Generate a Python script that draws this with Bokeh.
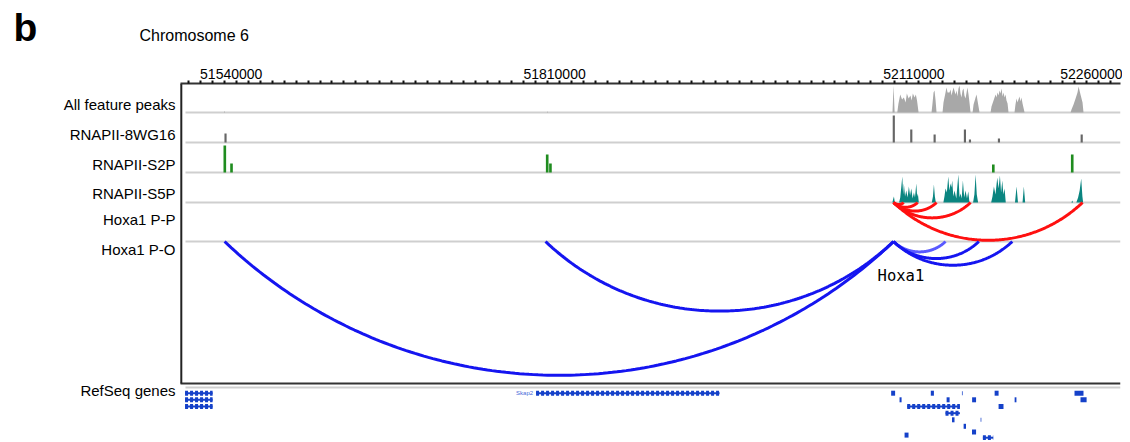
import numpy as np
from bokeh.plotting import figure
from bokeh.layouts import column
from bokeh.models import Range1d, FixedTicker, CustomJSTickFormatter
from bokeh.core.properties import value
from bokeh.embed import file_html
from bokeh.resources import INLINE

# ---------------- data (genomic positions in kb, chr6) ----------------
TICK_LABELS = ["51540000", "51810000", "52110000", "52260000"]
TICK_POS = [51540, 51810, 52110, 52260]

TRACK_NAMES = ["All feature peaks", "RNAPII-8WG16", "RNAPII-S2P", "RNAPII-S5P",
               "Hoxa1 P-P", "Hoxa1 P-O", "RefSeq genes"]

# All feature peaks (coverage profile)
ALL_X = [51549.8, 51550.3, 51550.8, 51819.5, 51820.0, 51820.5,
         52108.0, 52108.9, 52109.8,
         52112.0, 52113.0, 52114.5, 52116.0, 52117.5, 52119.0, 52120.0, 52121.5, 52123.0, 52124.0,
         52125.0, 52126.5, 52127.5, 52128.5, 52129.8,
         52140.6, 52141.5, 52142.3, 52143.1, 52144.0, 52144.8,
         52149.8, 52150.6, 52152.3, 52153.1, 52154.0, 52155.6, 52156.5, 52157.3, 52158.1, 52159.0,
         52160.6, 52161.5, 52162.3, 52163.1, 52164.0, 52164.8, 52165.6, 52166.5, 52167.3, 52168.1,
         52169.0, 52170.6, 52171.5, 52172.3, 52173.2,
         52174.9, 52175.7, 52177.4, 52178.2, 52179.0, 52180.7,
         52189.9, 52190.7, 52192.4, 52194.1, 52194.9, 52195.7, 52196.6, 52197.4, 52198.2, 52199.1,
         52199.9, 52200.7, 52201.6, 52202.4, 52203.2, 52204.1, 52204.9,
         52209.9, 52210.7, 52211.6, 52212.4, 52213.2, 52214.1, 52214.9, 52215.7, 52216.6, 52218.3,
         52256.7, 52257.5, 52259.2, 52260.9, 52262.5, 52263.4, 52264.2, 52265.0, 52266.7, 52267.5]
ALL_H = [0, 1.5, 0, 0, 1.2, 0,
         0, 27, 0,
         0, 9, 18, 13, 15, 10, 19, 14, 17, 12, 19, 15, 18, 12, 0,
         0, 10, 20, 22, 12, 0,
         0, 10, 20, 25, 20, 20, 23, 17, 21, 25, 18, 22, 16, 24, 27, 19, 15, 22, 24, 17, 14, 25, 18, 10, 0,
         0, 8, 15, 18, 12, 0,
         0, 6, 12, 18, 15, 20, 17, 22, 19, 24, 16, 20, 15, 18, 12, 9, 0,
         0, 8, 14, 10, 13, 16, 11, 15, 9, 0,
         0, 3, 8, 14, 20, 26, 22, 18, 10, 0]

# RNAPII-8WG16 peaks
WG_X = [51551.1, 52109.1, 52123.7, 52143.2, 52168.5, 52172.7, 52196.9, 52266.0]
WG_H = [9, 27, 13, 8, 13, 3, 4, 8]

# RNAPII-S2P peaks
S2P_X = [51550.5, 51556.1, 51819.7, 51822.4, 52192.2, 52258.1]
S2P_H = [27, 9, 18, 9, 8, 18]

# RNAPII-S5P coverage profile
S5P_X = [52107.9, 52108.5, 52109.2, 52110.0,
         52113.5, 52114.5, 52116.2, 52116.9, 52117.5, 52118.5, 52119.5, 52120.6, 52121.7, 52122.7,
         52123.7, 52124.8, 52125.9, 52126.8, 52127.9, 52128.6, 52129.2, 52130.0,
         52140.8, 52141.8, 52142.6, 52143.4, 52144.2,
         52150.5, 52151.4, 52152.3, 52153.4, 52154.6, 52155.5, 52156.5, 52157.2, 52157.9, 52158.8,
         52159.8, 52161.3, 52163.0, 52164.0, 52164.8, 52165.8, 52166.8, 52167.9, 52169.0, 52170.2,
         52171.3, 52172.3,
         52175.3, 52176.4, 52177.4, 52178.4, 52179.5,
         52190.4, 52191.5, 52192.7, 52194.0, 52195.5, 52196.6, 52197.7, 52198.7, 52199.7, 52200.6,
         52201.6, 52202.6,
         52210.3, 52211.6, 52212.8, 52216.6, 52217.7, 52218.8,
         52257.4, 52258.1, 52258.8, 52261.5, 52263.0, 52264.3, 52265.6, 52266.6, 52267.2]
S5P_H = [0, 3, 6, 0,
         0, 5, 26, 8, 19, 6, 12, 5, 16, 7,
         14, 4, 10, 5, 19, 6, 9, 0,
         0, 6, 18, 6, 0,
         0, 6, 14, 10, 26, 12, 19, 15, 22, 6,
         12, 4, 28, 5, 9, 4, 22, 5, 12, 4,
         11, 0,
         0, 8, 28, 8, 0,
         0, 6, 16, 8, 25, 14, 27, 10, 22, 8,
         14, 0,
         0, 16, 0, 0, 16, 0,
         0, 2, 0, 0, 5, 12, 24, 6, 0]

# Hoxa1 interactions
PP_ANCHOR = 52109.0
PP_ENDS = [52117.3, 52129.0, 52144.8, 52173.2, 52266.7]
PO_ANCHOR = 52108.9
PO_ENDS = [52152.3, 51550.3, 51818.3, 52180.1, 52208.0]
PO_LIGHT = [True, False, False, False, False]

# RefSeq genes
GENE_START = [51517.3, 51517.3, 51517.3, 51810.4,
              52106.9, 52140.0, 52166.0, 52193.3, 52260.0,
              52113.9, 52153.2, 52174.5, 52210.0, 52265.0,
              52120.3, 52196.6, 52152.3, 52157.7, 52181.6,
              52167.4, 52174.4, 52118.1, 52183.5]
GENE_END = [51540.3, 51540.3, 51540.3, 51963.6,
            52110.2, 52142.6, 52166.6, 52196.6, 52267.5,
            52115.6, 52155.7, 52177.8, 52211.5, 52270.1,
            52164.3, 52200.7, 52164.3, 52159.8, 52182.2,
            52169.4, 52177.8, 52121.4, 52192.1]
GENE_ROW = [0, 1, 2, 0,
            0, 0, 0, 0, 0,
            1, 1, 1, 1, 1,
            2, 2, 3, 4, 4,
            5, 6, 7, 8]
GENE_KIND = ["chain", "chain", "chain", "chain",
             "block", "block", "tick", "block", "block",
             "block", "block", "block", "block", "block",
             "chain", "block", "chain", "block", "tick",
             "block", "block", "block", "chain"]
GENE_NAME = {3: "Skap2"}

# ---------------- layout / style ----------------
W = 1122
HEAD_H = 55
MAIN_H = 385
X0, X1 = 51513.5, 52298.4          # extent of the browser panel (page x 180 .. 1120)
PX_PER_KB = 940 / (X1 - X0)
XL = X0 - 180 / PX_PER_KB          # page x 0 (room for the track names)
BASE_ALL, BASE_WG, BASE_S2P, BASE_S5P = 112, 142, 172, 202
BASE_PP, BASE_PO = 202, 241
ROW_Y = [392.7, 399.3, 406, 412.7, 419.3, 425.8, 431.5, 434.6, 437.2]
LABEL_Y = [104, 134, 163.5, 192.5, 218.5, 249, 390]
ARC_DEPTH = 0.2
FONT = "Liberation Sans"

# ---- header (panel letter + title) ----
head = figure(width=W, height=HEAD_H, x_range=Range1d(0, W - 2), y_range=Range1d(HEAD_H, 0),
              output_backend="svg", toolbar_location=None, x_axis_location=None,
              y_axis_location=None, min_border=0, min_border_right=2)
head.grid.visible = False
head.outline_line_color = None
head.text(x=[13], y=[26.5], text=["b"], text_font=value(FONT), text_font_style="bold",
          text_font_size="39px", text_baseline="middle", text_color="black")
head.text(x=[139], y=[35.3], text=["Chromosome 6"], text_font=value(FONT), text_font_size="16px",
          text_baseline="middle", text_color="black")

# ---- main browser panel ----
p = figure(width=W, height=MAIN_H, x_range=Range1d(XL, X1),
           y_range=Range1d(HEAD_H + MAIN_H, 83),
           output_backend="svg", toolbar_location=None, x_axis_location="above",
           y_axis_location=None,
           min_border_left=0, min_border_right=2, min_border_top=83 - HEAD_H, min_border_bottom=0)
p.grid.visible = False
p.outline_line_color = None
p.background_fill_color = "white"
p.border_fill_color = "white"

# top ruler: labels sit just right of their tick
xa = p.xaxis[0]
xa.bounds = (X0, X1)
xa.ticker = FixedTicker(ticks=[t + 19 / PX_PER_KB for t in TICK_POS],
                        minor_ticks=list(range(51520, 52300, 10)))
xa.formatter = CustomJSTickFormatter(args=dict(labels=TICK_LABELS), code="return labels[index]")
xa.axis_line_width = 2
xa.axis_line_color = "#333333"
xa.major_tick_in = 0
xa.major_tick_out = 0
xa.major_tick_line_color = None
xa.minor_tick_in = 0
xa.minor_tick_out = 3
xa.minor_tick_line_width = 2
xa.minor_tick_line_color = "#111111"
xa.major_label_standoff = 2
xa.major_label_text_font = FONT
xa.major_label_text_font_size = "14px"
xa.major_label_text_color = "black"

# track names
p.text(x=[X0 - 5 / PX_PER_KB] * len(TRACK_NAMES), y=LABEL_Y, text=TRACK_NAMES,
       text_font=value(FONT), text_font_size="15px", text_align="right",
       text_baseline="middle", text_color="black")

# separators
gx0 = X0 + 5 / PX_PER_KB
for yb in [BASE_ALL, BASE_WG, BASE_S2P, BASE_S5P, BASE_PO, 387]:
    p.segment(x0=gx0, y0=yb, x1=X1, y1=yb, line_color="#cfcfcf", line_width=2)
p.segment(x0=X0, y0=383, x1=X1, y1=383, line_color="#333333", line_width=2)
p.segment(x0=X0 + 0.8 / PX_PER_KB, y0=83, x1=X0 + 0.8 / PX_PER_KB, y1=383,
          line_color="#222222", line_width=2)

# coverage tracks
p.varea(x=ALL_X, y1=[BASE_ALL] * len(ALL_X), y2=[BASE_ALL - h for h in ALL_H], fill_color="#a8a8a8")
p.vbar(x=WG_X, width=1.8, bottom=BASE_WG, top=[BASE_WG - h for h in WG_H], fill_color="#666666",
       line_color=None)
p.vbar(x=S2P_X, width=2.2, bottom=BASE_S2P, top=[BASE_S2P - h for h in S2P_H], fill_color="#1f8c1f",
       line_color=None)
p.varea(x=S5P_X, y1=[BASE_S5P] * len(S5P_X), y2=[BASE_S5P - h for h in S5P_H], fill_color="#0a8580")


def arc_xy(a, b, base):
    c = abs(b - a) * PX_PER_KB
    s = ARC_DEPTH * c
    R = (c * c / 4 + s * s) / (2 * s)
    th = np.arcsin(c / (2 * R))
    t = np.linspace(-th, th, 160)
    mid = (a + b) / 2
    return list(mid + R * np.sin(t) / PX_PER_KB), list(base + R * np.cos(t) - (R - s))


xs, ys = zip(*[arc_xy(PP_ANCHOR, e, BASE_PP) for e in PP_ENDS])
p.multi_line(list(xs), list(ys), line_color="#ff1010", line_width=3)

for e, light in zip(PO_ENDS, PO_LIGHT):
    ax, ay = arc_xy(PO_ANCHOR, e, BASE_PO)
    p.line(ax, ay, line_color="#5a5aff" if light else "#1515f0", line_width=3)

p.text(x=[PO_ANCHOR - 16 / PX_PER_KB], y=[275.8], text=["Hoxa1"], text_font=value("DejaVu Sans Mono"),
       text_font_size="15.5px", text_baseline="middle", text_align="left", text_color="black")

# genes
GENE_COLOR = "#1541c9"
for i, (g0, g1, r, kind) in enumerate(zip(GENE_START, GENE_END, GENE_ROW, GENE_KIND)):
    y = ROW_Y[r]
    if kind == "chain":
        p.segment(x0=g0, y0=y, x1=g1, y1=y, line_color=GENE_COLOR, line_width=2)
        p.segment(x0=g0, y0=y, x1=g1, y1=y, line_color=GENE_COLOR, line_width=5,
                  line_dash="3 2")
    elif kind == "block":
        p.quad(left=g0, right=g1, top=y - 2.5, bottom=y + 2.5, fill_color=GENE_COLOR, line_color=None)
    else:
        p.quad(left=g0, right=g1, top=y - 2.0, bottom=y + 2.0, fill_color=GENE_COLOR, line_color=None)
    if i in GENE_NAME:
        p.text(x=[g0 - 2.5], y=[y], text=[GENE_NAME[i]], text_font=value(FONT), text_font_size="6px",
               text_baseline="middle", text_align="right", text_color="#4a6ad8")

layout = column(head, p, spacing=0)
open("out.html", "w").write(file_html(layout, INLINE))
